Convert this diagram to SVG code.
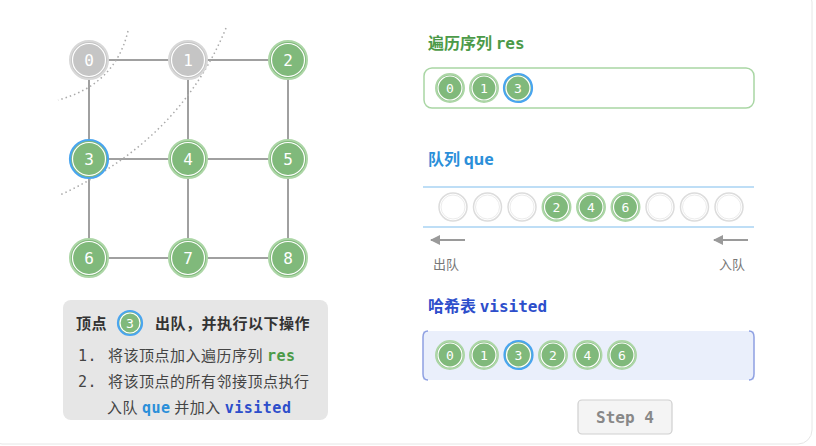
<svg xmlns="http://www.w3.org/2000/svg" width="816" height="446" viewBox="0 0 816 446">
<defs>
<style>
.bg{fill:#fff;stroke:#e6e6e6;stroke-width:1}
.edge{stroke:#a0a0a0;stroke-width:2;fill:none}
.dot{stroke:#aaa;stroke-width:1.5;fill:none;stroke-dasharray:1.5 3}
.g{fill:#80b97b;stroke:#acd6a6;stroke-width:2}
.gr{fill:#c5c5c5;stroke:#d8d8d8;stroke-width:2}
.bl{fill:#80b97b;stroke:#4aa5ef;stroke-width:2.2}
.em{fill:#fff;stroke:#dcdcdc;stroke-width:1.5}
.ring{fill:none;stroke:#fff;stroke-width:1.2}
.ering{fill:none;stroke:#ececec;stroke-width:1}
.nt{font-family:"DejaVu Sans Mono",monospace;font-size:16px;fill:#fff;text-anchor:middle;dominant-baseline:central}
.st{font-family:"DejaVu Sans Mono",monospace;font-size:13px;fill:#fff;text-anchor:middle;dominant-baseline:central}
.cn{font-family:"Noto Sans CJK SC",sans-serif}
.mono{font-family:"DejaVu Sans Mono",monospace;font-weight:bold}
.info{font-size:15px;fill:#444;letter-spacing:0.5px}
</style>
<marker id="ah" viewBox="0 0 10 10" refX="9" refY="5" markerWidth="5" markerHeight="5" orient="auto-start-reverse"><path d="M0,0L10,5L0,10z" fill="#9a9a9a"/></marker>
</defs>
<rect class="bg" x="-12" y="-12" width="824" height="456" rx="14"/>
<g id="connectors">
<path class="edge" d="M89,60H288M89,159H288M89,258H288M89,60V258M188,60V258M288,60V258"/>
<path class="dot" d="M128,31Q115,85 58,100"/>
<path class="dot" d="M226,28Q180,140 60,195"/>
<path d="M465,240H431" stroke="#9a9a9a" stroke-width="2" marker-end="url(#ah)"/>
<path d="M748,240H714" stroke="#9a9a9a" stroke-width="2" marker-end="url(#ah)"/>
</g>
<g id="node0"><circle class="gr" cx="89" cy="60" r="19"/><circle class="ring" cx="89" cy="60" r="16.5"/><text class="nt" x="89" y="60">0</text></g>
<g id="node1"><circle class="gr" cx="188" cy="60" r="19"/><circle class="ring" cx="188" cy="60" r="16.5"/><text class="nt" x="188" y="60">1</text></g>
<g id="node2"><circle class="g" cx="288" cy="60" r="19"/><circle class="ring" cx="288" cy="60" r="16.5"/><text class="nt" x="288" y="60">2</text></g>
<g id="node3"><circle class="bl" cx="89" cy="159" r="19"/><circle class="ring" cx="89" cy="159" r="16.5"/><text class="nt" x="89" y="159">3</text></g>
<g id="node4"><circle class="g" cx="188" cy="159" r="19"/><circle class="ring" cx="188" cy="159" r="16.5"/><text class="nt" x="188" y="159">4</text></g>
<g id="node5"><circle class="g" cx="288" cy="159" r="19"/><circle class="ring" cx="288" cy="159" r="16.5"/><text class="nt" x="288" y="159">5</text></g>
<g id="node6"><circle class="g" cx="89" cy="258" r="19"/><circle class="ring" cx="89" cy="258" r="16.5"/><text class="nt" x="89" y="258">6</text></g>
<g id="node7"><circle class="g" cx="188" cy="258" r="19"/><circle class="ring" cx="188" cy="258" r="16.5"/><text class="nt" x="188" y="258">7</text></g>
<g id="node8"><circle class="g" cx="288" cy="258" r="19"/><circle class="ring" cx="288" cy="258" r="16.5"/><text class="nt" x="288" y="258">8</text></g>

<g id="infobox">
<rect x="63" y="300" width="265" height="120" rx="8" fill="#e6e6e6"/>
<text class="cn" x="76" y="329" font-size="15" font-weight="bold" fill="#333" letter-spacing="0.5">顶点</text>
<circle cx="130" cy="323" r="12" fill="#80b97b" stroke="#4aa5ef" stroke-width="2.2"/><circle class="ring" cx="130" cy="323" r="10"/>
<text class="st" x="130" y="323">3</text>
<text class="cn" x="155" y="329" font-size="15" font-weight="bold" fill="#333" letter-spacing="0.5">出队，并执行以下操作</text>
<text class="info" x="78" y="361"><tspan font-family="DejaVu Sans Mono,monospace">1.</tspan><tspan class="cn" x="108">将该顶点加入遍历序列 </tspan><tspan class="mono" fill="#4c9a48">res</tspan></text>
<text class="info" x="78" y="387"><tspan font-family="DejaVu Sans Mono,monospace">2.</tspan><tspan class="cn" x="108">将该顶点的所有邻接顶点执行</tspan></text>
<text class="info" x="107" y="413"><tspan class="cn">入队 </tspan><tspan class="mono" fill="#2b8fd9">que</tspan><tspan class="cn"> 并加入 </tspan><tspan class="mono" fill="#2d4ecb">visited</tspan></text>
</g>

<g id="res">
<text x="428" y="49" font-size="16" font-weight="bold" fill="#4c9a48"><tspan class="cn">遍历序列 </tspan><tspan class="mono">res</tspan></text>
<rect x="424" y="68" width="330" height="40" rx="8" fill="#fff" stroke="#a9d6a4" stroke-width="1.5"/>
<circle class="g" cx="450" cy="88" r="14"/><circle class="ring" cx="450" cy="88" r="12"/><text class="st" x="450" y="88">0</text>
<circle class="g" cx="484" cy="88" r="14"/><circle class="ring" cx="484" cy="88" r="12"/><text class="st" x="484" y="88">1</text>
<circle class="bl" cx="518" cy="88" r="14"/><circle class="ring" cx="518" cy="88" r="12"/><text class="st" x="518" y="88">3</text>
</g>

<g id="que">
<text x="428" y="165" font-size="16" font-weight="bold" fill="#2b8fd9"><tspan class="cn">队列 </tspan><tspan font-family="Noto Sans,sans-serif">que</tspan></text>
<path d="M423,187H754M423,227H754" stroke="#a9d3f3" stroke-width="1.5"/>
<circle class="em" cx="453" cy="207" r="14"/><circle class="ering" cx="453" cy="207" r="12"/>
<circle class="em" cx="487.5" cy="207" r="14"/><circle class="ering" cx="487.5" cy="207" r="12"/>
<circle class="em" cx="522" cy="207" r="14"/><circle class="ering" cx="522" cy="207" r="12"/>
<circle class="g" cx="556.5" cy="207" r="14"/><circle class="ring" cx="556.5" cy="207" r="12"/><text class="st" x="556.5" y="207">2</text>
<circle class="g" cx="591" cy="207" r="14"/><circle class="ring" cx="591" cy="207" r="12"/><text class="st" x="591" y="207">4</text>
<circle class="g" cx="625.5" cy="207" r="14"/><circle class="ring" cx="625.5" cy="207" r="12"/><text class="st" x="625.5" y="207">6</text>
<circle class="em" cx="660" cy="207" r="14"/><circle class="ering" cx="660" cy="207" r="12"/>
<circle class="em" cx="694.5" cy="207" r="14"/><circle class="ering" cx="694.5" cy="207" r="12"/>
<circle class="em" cx="729" cy="207" r="14"/><circle class="ering" cx="729" cy="207" r="12"/>
<text class="cn" x="433" y="269" font-size="13" fill="#777">出队</text>
<text class="cn" x="719" y="269" font-size="13" fill="#777">入队</text>
</g>

<g id="visited">
<text x="428" y="312" font-size="16" font-weight="bold" fill="#2d4ecb"><tspan class="cn">哈希表 </tspan><tspan class="mono">visited</tspan></text>
<rect x="423" y="331" width="331" height="49" fill="#eaeffb"/>
<path d="M428,331Q423,331 423,337V374Q423,380 428,380M749,331Q754,331 754,337V374Q754,380 749,380" fill="none" stroke="#8ea0e2" stroke-width="1.5"/>
<circle class="g" cx="450" cy="355" r="14"/><circle class="ring" cx="450" cy="355" r="12"/><text class="st" x="450" y="355">0</text>
<circle class="g" cx="484" cy="355" r="14"/><circle class="ring" cx="484" cy="355" r="12"/><text class="st" x="484" y="355">1</text>
<circle class="bl" cx="518.5" cy="355" r="14"/><circle class="ring" cx="518.5" cy="355" r="12"/><text class="st" x="518.5" y="355">3</text>
<circle class="g" cx="553" cy="355" r="14"/><circle class="ring" cx="553" cy="355" r="12"/><text class="st" x="553" y="355">2</text>
<circle class="g" cx="587.5" cy="355" r="14"/><circle class="ring" cx="587.5" cy="355" r="12"/><text class="st" x="587.5" y="355">4</text>
<circle class="g" cx="622" cy="355" r="14"/><circle class="ring" cx="622" cy="355" r="12"/><text class="st" x="622" y="355">6</text>
</g>

<g id="step">
<rect x="578" y="400" width="94" height="34" rx="4" fill="#f4f4f4" stroke="#cfcfcf" stroke-width="1.2"/>
<text class="mono" x="625" y="423" font-size="16" fill="#888" text-anchor="middle">Step 4</text>
</g>
</svg>
